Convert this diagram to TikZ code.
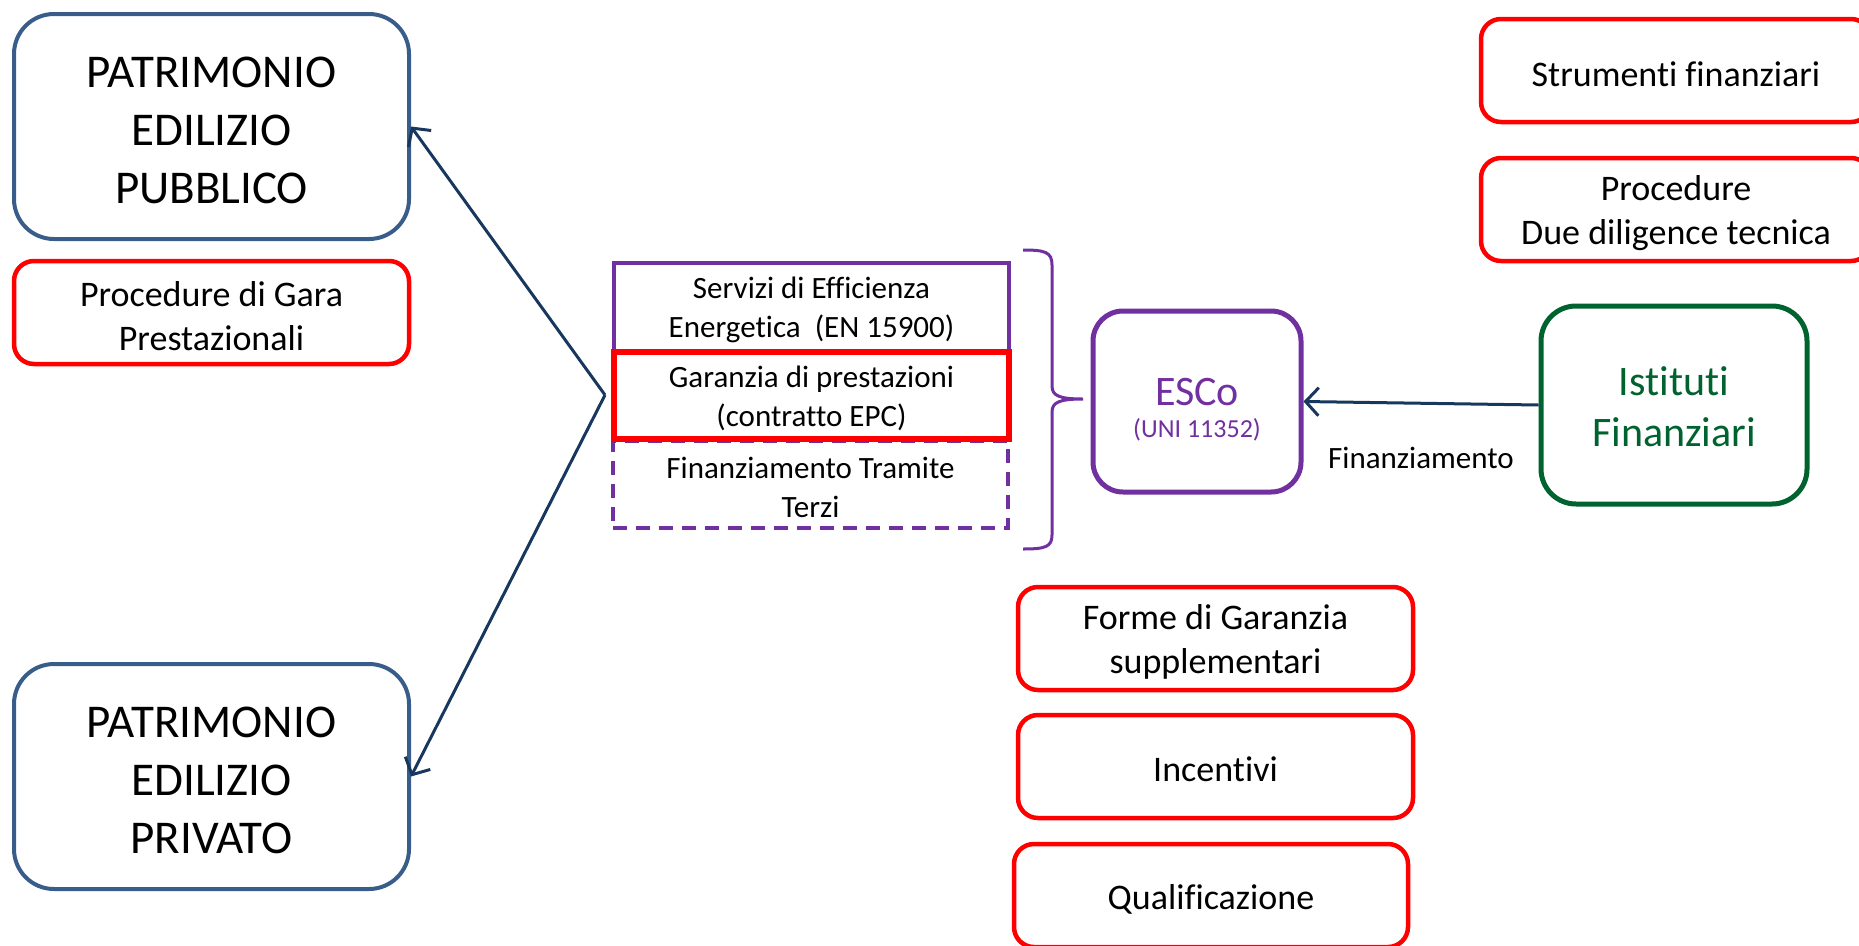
\documentclass[tikz,border=0pt]{standalone}
\usepackage{fontspec}
\setmainfont{Carlito}[Ligatures=NoCommon]
\usetikzlibrary{arrows.meta}
\definecolor{boxblue}{RGB}{56,93,138}
\definecolor{escopurple}{RGB}{112,48,160}
\definecolor{fingreen}{RGB}{0,98,46}
\definecolor{navyline}{RGB}{23,55,94}
\newcommand\capstrut[1]{\rule{0pt}{#1}}
\tikzset{
  bigbox/.style={draw=boxblue, line width=4pt, rounded corners=40pt, minimum width=395pt, minimum height=225pt, align=center, font=\fontsize{47}{58}\selectfont, inner sep=0pt},
  redbox/.style={draw=red, line width=4.5pt, rounded corners=20pt, align=center, font=\fontsize{36}{44}\selectfont, minimum height=103pt, inner sep=0pt},
  svcbox/.style={line width=4pt, minimum width=395pt, minimum height=87pt, align=center, font=\fontsize{31}{39}\selectfont, inner sep=0pt},
  arr/.style={draw=navyline, line width=3pt, -{Straight Barb[length=13pt,width=28pt,line width=3pt]}}
}
\begin{document}
\begin{tikzpicture}[x=1pt,y=-1pt]
\useasboundingbox (0,0) rectangle (1859,945);
% left column
\node[bigbox] (pub) at (211.5,126.5) {\capstrut{39pt}PATRIMONIO\\EDILIZIO\\PUBBLICO};
\node[redbox, minimum width=395pt] (gara) at (211.5,312.5) {\capstrut{32pt}Procedure di Gara\\Prestazionali};
\node[bigbox] (priv) at (211.5,776.5) {\capstrut{39pt}PATRIMONIO\\EDILIZIO\\PRIVATO};
% service boxes
\node[svcbox, draw=escopurple, dash pattern=on 14pt off 9pt] (ftt) at (810.5,484.5) {\capstrut{28pt}Finanziamento Tramite\\Terzi};
\node[svcbox, draw=escopurple, minimum height=88pt] (see) at (811.5,307) {\capstrut{28pt}Servizi di Efficienza\\Energetica\ \ (EN 15900)};
\node[svcbox, draw=red, line width=5.5pt] (epc) at (811.5,395.5) {\capstrut{28pt}Garanzia di prestazioni\\(contratto EPC)};
% brace
\draw[escopurple, line width=3pt] (1023,250) .. controls (1045,250) and (1052,252) .. (1052,265) -- (1052,386) .. controls (1052,396) and (1060,399) .. (1083,399) .. controls (1060,399) and (1052,402) .. (1052,412) -- (1052,535) .. controls (1052,547) and (1045,549) .. (1023,549);
% ESCo
\node[draw=escopurple, line width=5pt, rounded corners=30pt, minimum width=208pt, minimum height=181pt, align=center, text=escopurple, font=\fontsize{42}{50}\selectfont, inner sep=0pt] (esco) at (1197,401.5) {\capstrut{44pt}ESCo\\[-18pt]{\fontsize{26}{30}\selectfont (UNI 11352)}};
% Istituti
\node[draw=fingreen, line width=5pt, rounded corners=35pt, minimum width=266pt, minimum height=198pt, align=center, text=fingreen, font=\fontsize{42}{51}\selectfont, inner sep=0pt] (ist) at (1674,405) {\capstrut{33pt}Istituti\\Finanziari};
% right red boxes
\node[redbox, minimum width=390pt] (strum) at (1676,70.5) {\capstrut{32pt}Strumenti finanziari};
\node[redbox, minimum width=390pt] (due) at (1676,209.5) {\capstrut{32pt}Procedure\\Due diligence tecnica};
% bottom red boxes
\node[redbox, minimum width=395pt] (forme) at (1215.5,638.5) {\capstrut{32pt}Forme di Garanzia\\supplementari};
\node[redbox, minimum width=395pt] (inc) at (1215.5,766.5) {\capstrut{30pt}Incentivi};
\node[redbox, minimum width=394pt] (qual) at (1211,895.5) {\capstrut{32pt}Qualificazione};
% connectors
\coordinate (v) at (605,395);
\draw[arr] (v) -- (pub.east);
\draw[arr] (v) -- (priv.east);
\draw[arr] (ist.west) -- node[midway, yshift=-55pt, font=\fontsize{31}{38}\selectfont, text=black] (finlab) {Finanziamento} (esco.east);
\end{tikzpicture}
\end{document}
